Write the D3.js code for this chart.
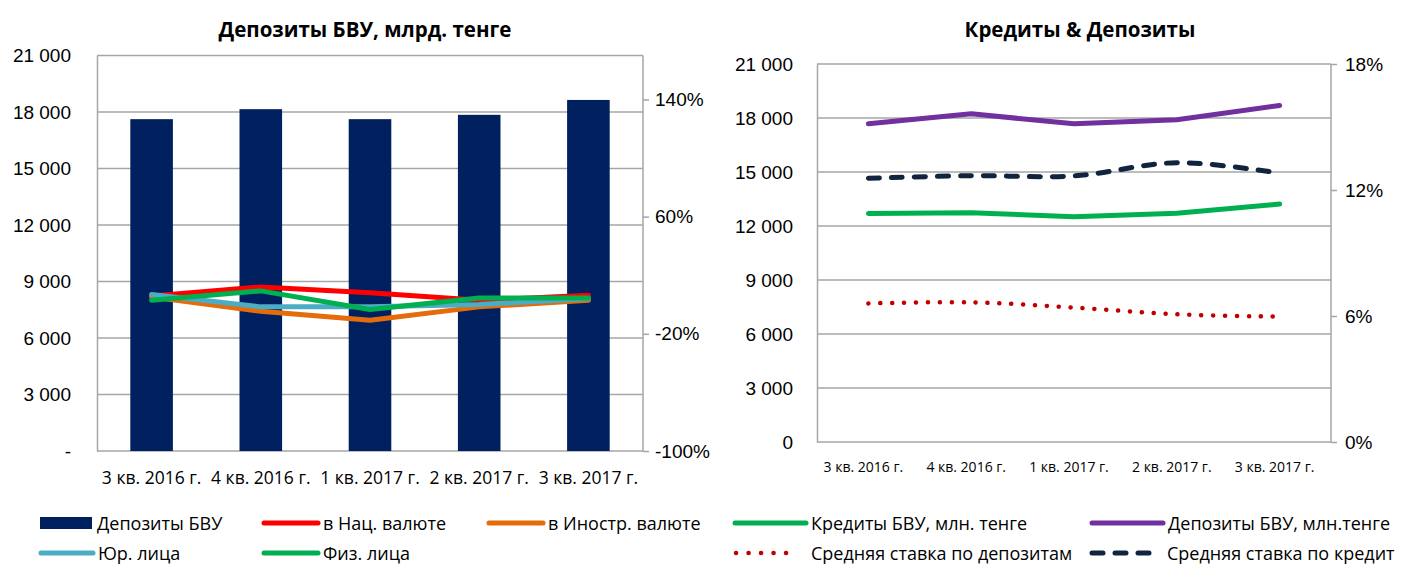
<!DOCTYPE html>
<html>
<head>
<meta charset="utf-8">
<script src="https://cdn.jsdelivr.net/npm/d3@7"></script>
<style>
  body { margin: 0; background: #fff; }
  svg { font-family: "Open Sans", "Noto Sans", sans-serif; }
  .grid line { stroke: #a6a6a6; stroke-width: 1.5; }
  .axis path, .axis line { stroke: #a6a6a6; stroke-width: 1.5; }
  .axis text { fill: #000; }
</style>
</head>
<body>
<svg id="chart" width="1402" height="565"></svg>
<script>
// quarters
var quarters = ["3 кв. 2016 г.", "4 кв. 2016 г.", "1 кв. 2017 г.", "2 кв. 2017 г.", "3 кв. 2017 г."];

// left chart: deposits, bln tenge (bars) + growth rates, % (lines)
var depositsBVU = [17620, 18150, 17620, 17850, 18640];
var natCurrency = [5.9, 12.0, 8.1, 2.9, 6.4];
var foreignCurrency = [5.2, -4.6, -10.7, -1.6, 2.9];
var legalEntities = [6.8, -1.6, -1.5, 0.0, 4.1];
var individuals = [2.9, 9.3, -3.4, 4.5, 4.5];

var leftTicks = [0, 3000, 6000, 9000, 12000, 15000, 18000, 21000];
var leftPctTicks = [-100, -20, 60, 140];

// right chart: credits & deposits, mln tenge + rates, %
var creditsMln = [12700, 12740, 12520, 12710, 13220];
var depositsMln = [17680, 18230, 17680, 17900, 18700];
var depositRate = [6.60, 6.65, 6.40, 6.08, 5.97];
var creditRate = [12.56, 12.68, 12.67, 13.30, 12.80];

var rightTicks = [0, 3000, 6000, 9000, 12000, 15000, 18000, 21000];
var rightPctTicks = [0, 6, 12, 18];

var svg = d3.select("#chart");
var fmtNum = function(d) { return d === 0 ? "-" : d3.format(",")(d).replace(/,/g, " "); };

// ---------- left chart ----------
var L = {left: 97, right: 643, top: 55.5, bottom: 451};
var xL = d3.scaleBand().domain(quarters).range([L.left, L.right]);
var yL = d3.scaleLinear().domain([0, 21000]).range([L.bottom, L.top]);
var yL2 = d3.scaleLinear().domain([-100, 170]).range([L.bottom, L.top]);

svg.append("text")
  .attr("x", (L.left + L.right) / 2 - 5).attr("y", 37)
  .attr("text-anchor", "middle")
  .attr("font-size", 20.5).attr("font-weight", "bold")
  .text("Депозиты БВУ, млрд. тенге");

svg.append("g").attr("class", "grid")
  .selectAll("line").data(leftTicks).join("line")
  .attr("x1", L.left).attr("x2", L.right)
  .attr("y1", function(d) { return yL(d); }).attr("y2", function(d) { return yL(d); });

svg.append("g").attr("class", "axis")
  .attr("transform", "translate(" + L.left + ",0)")
  .call(d3.axisLeft(yL).tickValues(leftTicks).tickSize(0).tickPadding(26).tickFormat(fmtNum))
  .call(function(g) { g.selectAll("text").attr("font-size", 19); });

svg.append("g").attr("class", "axis")
  .attr("transform", "translate(" + L.right + ",0)")
  .call(d3.axisRight(yL2).tickValues(leftPctTicks).tickSize(6).tickPadding(6)
    .tickFormat(function(d) { return d + "%"; }))
  .call(function(g) {
    g.select(".domain").attr("d", "M0," + L.top + "V" + L.bottom);
    g.selectAll("text").attr("font-size", 19);
  });

var barW = xL.bandwidth() * 0.39;
svg.append("g").selectAll("rect").data(depositsBVU).join("rect")
  .attr("x", function(d, i) { return xL(quarters[i]) + (xL.bandwidth() - barW) / 2; })
  .attr("y", function(d) { return yL(d); })
  .attr("width", barW)
  .attr("height", function(d) { return yL(0) - yL(d); })
  .attr("fill", "#002060");

var lineL = d3.line()
  .x(function(d, i) { return xL(quarters[i]) + xL.bandwidth() / 2; })
  .y(function(d) { return yL2(d); });

var leftSeries = [
  {values: natCurrency, color: "#ff0000"},
  {values: foreignCurrency, color: "#e46c0a"},
  {values: legalEntities, color: "#4bacc6"},
  {values: individuals, color: "#00b050"}
];
svg.append("g").selectAll("path").data(leftSeries).join("path")
  .attr("d", function(s) { return lineL(s.values); })
  .attr("fill", "none")
  .attr("stroke", function(s) { return s.color; })
  .attr("stroke-width", 5)
  .attr("stroke-linecap", "round")
  .attr("stroke-linejoin", "round");

svg.append("g").selectAll("text").data(quarters).join("text")
  .attr("x", function(d) { return xL(d) + xL.bandwidth() / 2; })
  .attr("y", 484)
  .attr("text-anchor", "middle")
  .attr("font-size", 17.5)
  .text(function(d) { return d; });

// ---------- right chart ----------
var R = {left: 817, right: 1331, top: 64, bottom: 442};
var xR = d3.scaleBand().domain(quarters).range([R.left, R.right]);
var yR = d3.scaleLinear().domain([0, 21000]).range([R.bottom, R.top]);
var yR2 = d3.scaleLinear().domain([0, 18]).range([R.bottom, R.top]);

svg.append("text")
  .attr("x", (R.left + R.right) / 2 + 6).attr("y", 37)
  .attr("text-anchor", "middle")
  .attr("font-size", 20.5).attr("font-weight", "bold")
  .text("Кредиты & Депозиты");

svg.append("g").attr("class", "grid")
  .selectAll("line").data(rightTicks).join("line")
  .attr("x1", R.left).attr("x2", R.right)
  .attr("y1", function(d) { return yR(d); }).attr("y2", function(d) { return yR(d); });

svg.append("g").attr("class", "axis")
  .attr("transform", "translate(" + R.left + ",0)")
  .call(d3.axisLeft(yR).tickValues(rightTicks).tickSize(0).tickPadding(24)
    .tickFormat(function(d) { return d3.format(",")(d).replace(/,/g, " "); }))
  .call(function(g) { g.selectAll("text").attr("font-size", 19); });

svg.append("g").attr("class", "axis")
  .attr("transform", "translate(" + R.right + ",0)")
  .call(d3.axisRight(yR2).tickValues(rightPctTicks).tickSize(6).tickPadding(8)
    .tickFormat(function(d) { return d + "%"; }))
  .call(function(g) {
    g.select(".domain").attr("d", "M0," + R.top + "V" + R.bottom);
    g.selectAll("text").attr("font-size", 19);
  });

var cx = function(d, i) { return xR(quarters[i]) + xR.bandwidth() / 2; };
var lineR = d3.line().x(cx).y(function(d) { return yR(d); });
var lineR2 = d3.line().x(cx).y(function(d) { return yR2(d); }).curve(d3.curveCatmullRom.alpha(0.5));

svg.append("path").attr("d", lineR(creditsMln))
  .attr("fill", "none").attr("stroke", "#00b050").attr("stroke-width", 5)
  .attr("stroke-linecap", "round").attr("stroke-linejoin", "round");
svg.append("path").attr("d", lineR(depositsMln))
  .attr("fill", "none").attr("stroke", "#7030a0").attr("stroke-width", 5)
  .attr("stroke-linecap", "round").attr("stroke-linejoin", "round");
svg.append("path").attr("d", lineR2(creditRate))
  .attr("fill", "none").attr("stroke", "#10243e").attr("stroke-width", 5)
  .attr("stroke-dasharray", "11,12").attr("stroke-linecap", "round");
svg.append("path").attr("d", lineR2(depositRate))
  .attr("fill", "none").attr("stroke", "#c00000").attr("stroke-width", 4.5)
  .attr("stroke-dasharray", "0.1,11.8").attr("stroke-linecap", "round");

svg.append("g").selectAll("text").data(quarters).join("text")
  .attr("x", function(d) { return xR(d) + xR.bandwidth() / 2 - 5; })
  .attr("y", 472)
  .attr("text-anchor", "middle")
  .attr("font-size", 14)
  .text(function(d) { return d; });

// ---------- legends ----------
var legendItems = [
  {label: "Депозиты БВУ", type: "rect", color: "#002060", x: 40, y: 523, w: 52},
  {label: "в Нац. валюте", type: "line", color: "#ff0000", x: 264, y: 523, w: 54},
  {label: "в Иностр. валюте", type: "line", color: "#e46c0a", x: 489, y: 523, w: 54},
  {label: "Юр. лица", type: "line", color: "#4bacc6", x: 41, y: 553, w: 52},
  {label: "Физ. лица", type: "line", color: "#00b050", x: 264, y: 553, w: 54},
  {label: "Кредиты БВУ, млн. тенге", type: "line", color: "#00b050", x: 735, y: 523, w: 71},
  {label: "Депозиты БВУ, млн.тенге", type: "line", color: "#7030a0", x: 1092, y: 523, w: 71},
  {label: "Средняя ставка по депозитам", type: "dot", color: "#c00000", x: 736, y: 553, w: 62},
  {label: "Средняя ставка по кредит", type: "dash", color: "#10243e", x: 1092, y: 553, w: 62}
];

var lg = svg.append("g").selectAll("g").data(legendItems).join("g");
lg.each(function(d) {
  var g = d3.select(this);
  if (d.type === "rect") {
    g.append("rect").attr("x", d.x).attr("y", d.y - 6).attr("width", d.w).attr("height", 12).attr("fill", d.color);
  } else {
    var l = g.append("line").attr("x1", d.x).attr("x2", d.x + d.w).attr("y1", d.y).attr("y2", d.y)
      .attr("stroke", d.color).attr("stroke-width", 5).attr("stroke-linecap", "round");
    if (d.type === "dot") l.attr("stroke-dasharray", "0.1,12.4").attr("stroke-width", 4.5);
    if (d.type === "dash") l.attr("stroke-dasharray", "11,12");
  }
  var tx = d.type === "dot" || d.type === "dash" ? d.x + d.w + 13 : d.x + d.w + 5;
  g.append("text").attr("x", tx).attr("y", d.y + 6.5)
    .attr("font-size", 18).text(d.label);
});
</script>
</body>
</html>
